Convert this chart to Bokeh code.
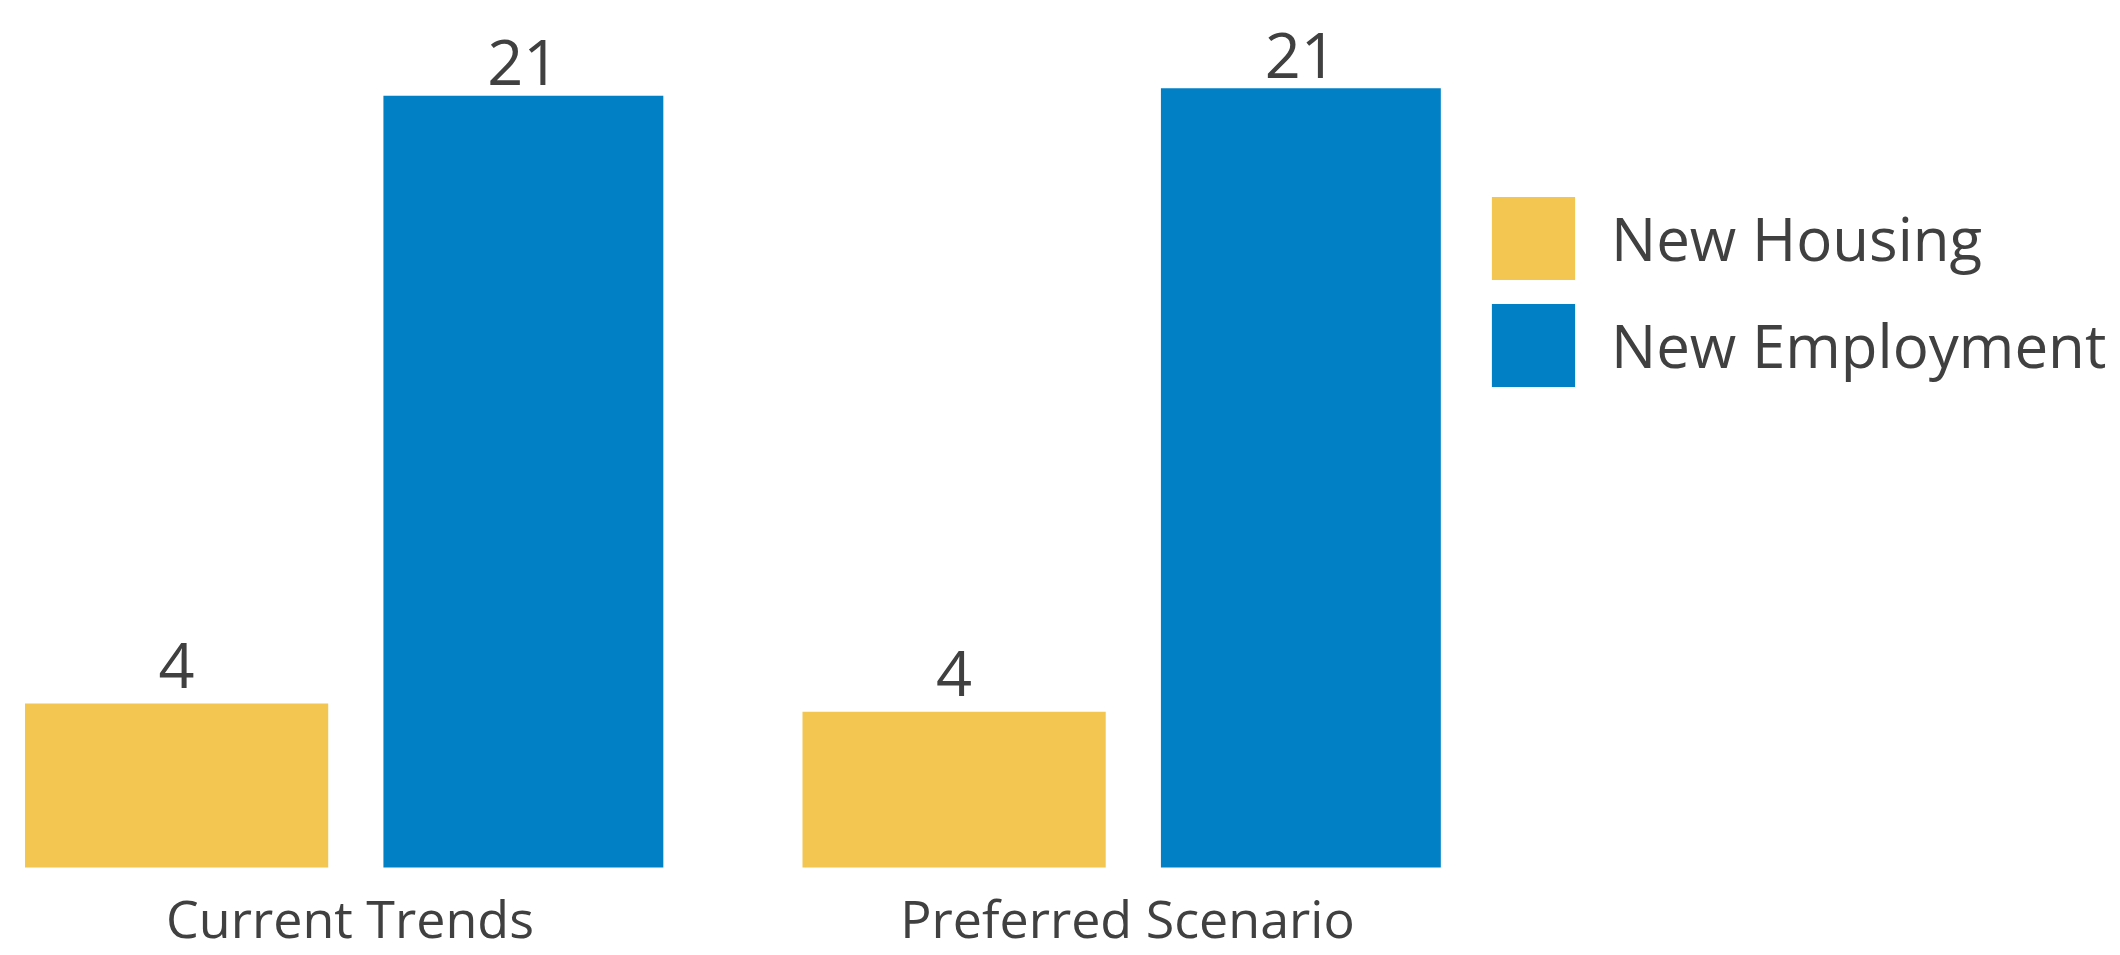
from bokeh.plotting import figure
from bokeh.models import ColumnDataSource, Range1d, FixedTicker, Legend, LegendItem
from bokeh.transform import dodge
from bokeh.core.properties import value
from bokeh.embed import file_html
from bokeh.resources import INLINE

# ---- data ----
categories = ["Current Trends", "Preferred Scenario"]
housing = [4.46, 4.24]
employment = [21.0, 21.2]
housing_labels = ["4", "4"]
employment_labels = ["21", "21"]

YELLOW = "#F2C651"
BLUE = "#0180C6"
TEXT = "#404040"

src = ColumnDataSource(dict(
    x=list(range(len(categories))),
    cat=categories,
    housing=housing,
    employment=employment,
    hl=housing_labels,
    el=employment_labels,
))

W, H = 2112, 955
p = figure(width=W, height=H, output_backend="svg", toolbar_location=None,
           x_range=Range1d(-0.4495, 2.2669), y_range=Range1d(-0.217, 23.59),
           min_border_left=0, min_border_right=0, min_border_top=0,
           min_border_bottom=0)
p.outline_line_color = None
p.grid.visible = False
p.yaxis.visible = False
p.background_fill_color = "white"
p.border_fill_color = "white"

off = 0.223
r_h = p.vbar(x=dodge("x", -off, range=p.x_range), top="housing", bottom=0,
             width=0.39, source=src, fill_color=YELLOW, line_color=None)
r_e = p.vbar(x=dodge("x", off, range=p.x_range), top="employment", bottom=0,
             width=0.36, source=src, fill_color=BLUE, line_color=None)

p.text(x=dodge("x", -off, range=p.x_range), y="housing", text="hl", source=src,
       text_align="center", text_baseline="alphabetic", y_offset=-38,
       text_font=value("Open Sans"), text_font_size="63px", text_color=TEXT)
p.text(x=dodge("x", off, range=p.x_range), y="employment", text="el", source=src,
       text_align="center", text_baseline="alphabetic", y_offset=-33,
       text_font=value("Open Sans"), text_font_size="63px", text_color=TEXT)

ax = p.xaxis[0]
ax.ticker = FixedTicker(ticks=list(range(len(categories))))
ax.major_label_overrides = {i: c for i, c in enumerate(categories)}
ax.axis_line_color = None
ax.major_tick_line_color = None
ax.minor_tick_line_color = None
ax.major_label_standoff = 0
ax.major_label_text_font = "Open Sans"
ax.major_label_text_font_size = "52px"
ax.major_label_text_color = TEXT

legend = Legend(items=[LegendItem(label="New Housing", renderers=[r_h]),
                       LegendItem(label="New Employment", renderers=[r_e])],
                location=(1481, 478), orientation="vertical",
                glyph_width=104, glyph_height=104, spacing=3, label_standoff=26,
                padding=0, margin=0, border_line_color=None,
                background_fill_alpha=0,
                label_text_font="Open Sans", label_text_font_size="60px",
                label_text_color=TEXT)
p.add_layout(legend)

open("out.html", "w").write(file_html(p, INLINE))
